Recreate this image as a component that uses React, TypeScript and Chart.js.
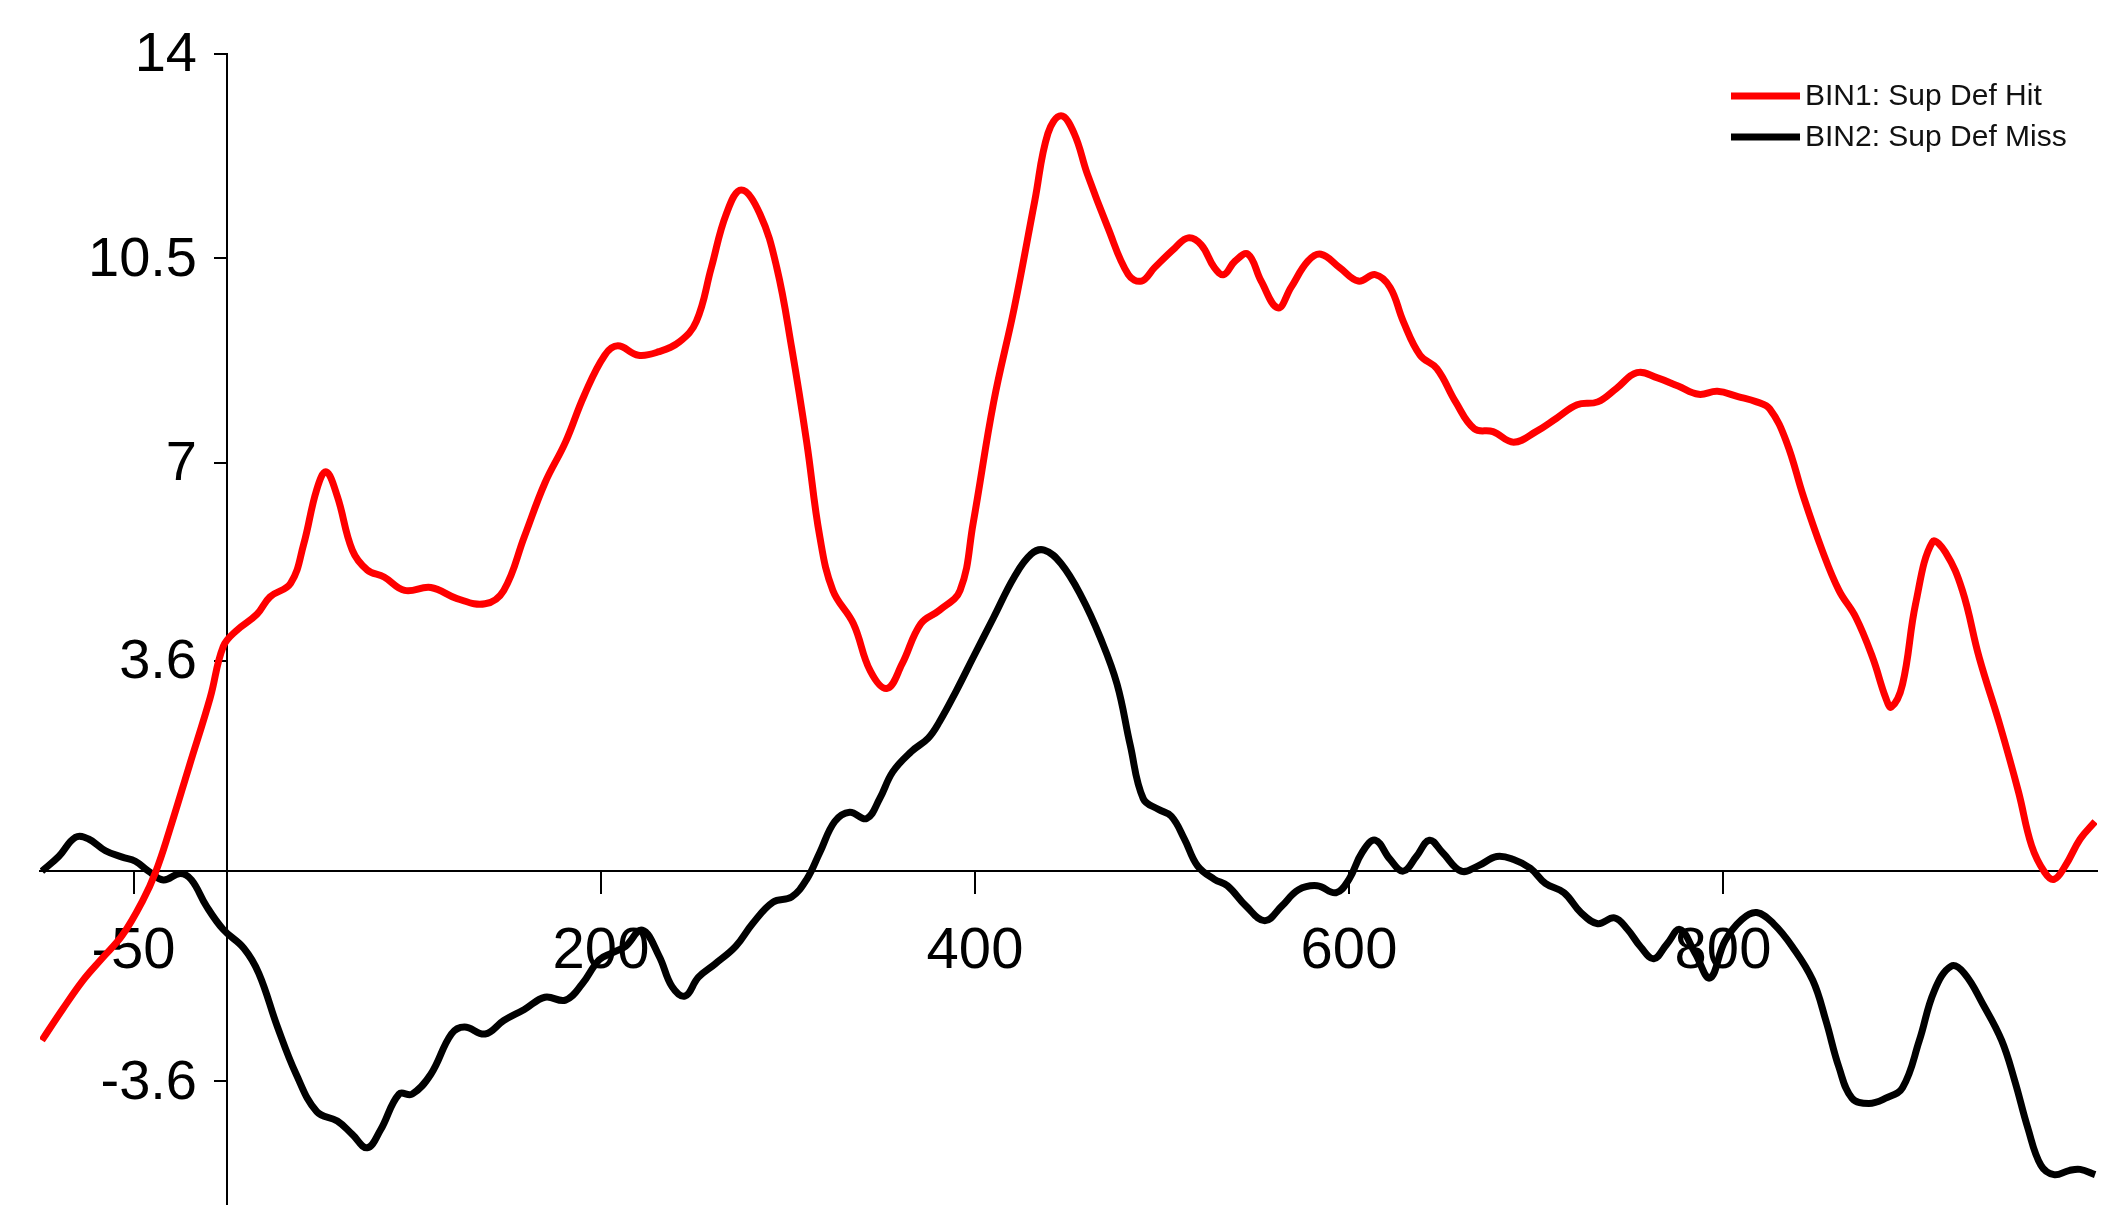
import React, { useEffect, useRef } from "react";
import { Chart, registerables } from "chart.js";

Chart.register(...registerables);

// Time (ms) and amplitude readings of each waveform
const hitTimes = [-99,-88,-77,-67,-56,-45,-38,-31,-20,-9,-2,5,16,23,34,41,48,53,59,67,75,84,95,109,123,138,148,159,170,181,191,202,209,220,231,242,251,259,267,275,285,294,302,310,317,324,335,344,353,361,371,381,392,399,410,421,432,439,446,453,460,471,482,489,496,507,514,521,528,533,539,546,553,562,569,578,585,595,605,614,622,629,638,647,657,667,677,688,700,711,722,733,743,754,765,776,787,797,808,818,825,834,843,853,862,871,880,887,890,896,903,912,919,928,937,948,958,965,972,977,983,991,999];
const hitValues = [-2.9,-2.37,-1.87,-1.5,-1.1,-0.5,0,0.67,1.82,2.97,3.85,4.12,4.4,4.7,4.93,5.6,6.54,6.84,6.42,5.5,5.16,5.04,4.81,4.86,4.67,4.58,4.81,5.73,6.65,7.35,8.15,8.84,9.0,8.84,8.9,9.07,9.42,10.34,11.26,11.67,11.26,10.34,8.96,7.35,5.73,4.81,4.24,3.43,3.13,3.55,4.24,4.47,4.81,5.96,8.04,9.65,11.49,12.64,12.94,12.64,11.95,11.03,10.22,10.11,10.34,10.68,10.85,10.73,10.34,10.22,10.45,10.57,10.11,9.65,10.0,10.45,10.57,10.34,10.11,10.22,10.0,9.42,8.84,8.61,8.04,7.58,7.53,7.35,7.53,7.76,7.99,8.04,8.27,8.54,8.45,8.31,8.17,8.22,8.13,8.04,7.92,7.35,6.42,5.5,4.81,4.35,3.66,2.97,2.81,3.2,4.58,5.64,5.46,4.81,3.66,2.51,1.36,0.44,-0.02,-0.14,0.09,0.55,0.85];

const missTimes = [-99,-90,-81,-74,-65,-56,-49,-42,-34,-25,-19,-11,-2,9,17,27,37,48,59,67,75,82,92,99,109,120,127,138,148,159,170,181,190,199,206,213,222,231,238,245,252,261,272,281,292,302,310,317,325,333,342,349,356,366,375,381,390,399,410,421,430,437,446,457,467,476,483,490,498,505,512,519,528,535,545,555,564,573,583,593,600,607,614,622,629,636,643,650,660,669,679,688,697,705,715,724,733,742,749,756,763,770,777,785,793,801,810,818,827,837,848,855,862,869,878,887,896,905,913,922,929,939,949,956,963,970,977,985,991,999];
const missValues = [0,0.25,0.58,0.55,0.35,0.24,0.17,0,-0.15,-0.04,-0.15,-0.6,-1.0,-1.32,-1.75,-2.67,-3.48,-4.12,-4.28,-4.51,-4.74,-4.44,-3.82,-3.82,-3.48,-2.79,-2.67,-2.79,-2.56,-2.37,-2.16,-2.21,-1.93,-1.52,-1.4,-1.29,-1.01,-1.45,-1.98,-2.14,-1.82,-1.59,-1.29,-0.9,-0.53,-0.44,-0.14,0.32,0.85,1.01,0.9,1.24,1.7,2.05,2.28,2.56,3.09,3.66,4.35,5.04,5.43,5.5,5.27,4.7,4.0,3.2,2.16,1.24,1.06,0.94,0.55,0.09,-0.14,-0.25,-0.6,-0.85,-0.6,-0.32,-0.25,-0.37,-0.14,0.32,0.53,0.2,0,0.25,0.53,0.32,0,0.09,0.25,0.2,0.05,-0.21,-0.37,-0.71,-0.9,-0.8,-1.0,-1.3,-1.5,-1.25,-1.0,-1.4,-1.83,-1.2,-0.83,-0.71,-0.9,-1.29,-1.87,-2.56,-3.36,-3.89,-3.98,-3.89,-3.71,-2.9,-2.05,-1.63,-1.75,-2.28,-2.9,-3.59,-4.4,-5.04,-5.2,-5.13,-5.11,-5.2];

const seriesLabels = ["BIN1: Sup Def Hit", "BIN2: Sup Def Miss"];
const seriesColors = ["#ff0000", "#000000"];

const xTickValues = [-50, 200, 400, 600, 800];
const yTickValues = [-3.6, 3.6, 7, 10.5, 14];

const FONT = '"Liberation Sans", Arial, Helvetica, sans-serif';

// Legend drawn inside the plot, top right
const insideLegend = {
  id: "insideLegend",
  afterDraw(chart: any) {
    const ctx = chart.ctx;
    ctx.save();
    chart.data.datasets.forEach((ds: any, i: number) => {
      const y = 96 + i * 41;
      ctx.strokeStyle = ds.borderColor;
      ctx.lineWidth = 7;
      ctx.beginPath();
      ctx.moveTo(1731, y);
      ctx.lineTo(1800, y);
      ctx.stroke();
      ctx.fillStyle = "#111";
      ctx.font = `30px ${FONT}`;
      ctx.textBaseline = "middle";
      ctx.textAlign = "left";
      ctx.fillText(ds.label, 1805, y + 1);
    });
    ctx.restore();
  },
};

// Y tick labels placed left of the crossing y axis (at x = 0)
const yAxisLabels = {
  id: "yAxisLabels",
  afterDraw(chart: any) {
    const ys = chart.scales.y;
    const xs = chart.scales.x;
    const ctx = chart.ctx;
    const axisX = xs.getPixelForValue(0);
    ctx.save();
    ctx.fillStyle = "#000";
    ctx.font = `56px ${FONT}`;
    ctx.textAlign = "right";
    ctx.textBaseline = "middle";
    ys.ticks.forEach((t: any) => {
      ctx.fillText(String(t.value), axisX - 30, ys.getPixelForValue(t.value) + 2);
    });
    ctx.restore();
  },
};

export default function App() {
  const ref = useRef<HTMLCanvasElement | null>(null);

  useEffect(() => {
    if (!ref.current) return;
    const chart = new Chart(ref.current, {
      type: "line",
      data: {
        datasets: [
          {
            label: seriesLabels[0],
            data: hitTimes.map((t, i) => ({ x: t, y: hitValues[i] })),
            borderColor: seriesColors[0],
            borderWidth: 7,
            pointRadius: 0,
            tension: 0.4,
            fill: false,
          },
          {
            label: seriesLabels[1],
            data: missTimes.map((t, i) => ({ x: t, y: missValues[i] })),
            borderColor: seriesColors[1],
            borderWidth: 7,
            pointRadius: 0,
            tension: 0.4,
            fill: false,
          },
        ],
      },
      options: {
        responsive: false,
        animation: false,
        layout: { padding: { left: 40, right: 7, top: 54, bottom: 0 } },
        plugins: { legend: { display: false }, tooltip: { enabled: false } },
        scales: {
          x: {
            type: "linear",
            min: -100,
            max: 1000,
            position: { y: 0 } as any,
            afterBuildTicks: (s: any) => {
              s.ticks = xTickValues.map((v) => ({ value: v }));
            },
            afterFit: (s: any) => {
              s.height = 0;
              s.paddingLeft = 0;
              s.paddingRight = 0;
              s.paddingTop = 0;
              s.paddingBottom = 0;
            },
            grid: { drawOnChartArea: false, drawTicks: true, tickLength: 22, color: "#000", lineWidth: 2 },
            border: { display: true, color: "#000", width: 2 },
            ticks: { color: "#000", font: { family: FONT, size: 58 }, padding: 24, maxRotation: 0, autoSkip: false },
          },
          y: {
            type: "linear",
            min: -5.72,
            max: 14,
            position: { x: 0 } as any,
            afterBuildTicks: (s: any) => {
              s.ticks = yTickValues.map((v) => ({ value: v }));
            },
            afterFit: (s: any) => {
              s.width = 0;
              s.paddingLeft = 0;
              s.paddingRight = 0;
              s.paddingTop = 0;
              s.paddingBottom = 0;
            },
            grid: { drawOnChartArea: false, drawTicks: true, tickLength: 12, color: "#000", lineWidth: 2 },
            border: { display: true, color: "#000", width: 2 },
            ticks: { display: false, color: "#000", font: { family: FONT, size: 56 }, autoSkip: false },
          },
        },
      },
      plugins: [insideLegend, yAxisLabels],
    });
    return () => chart.destroy();
  }, []);

  return (
    <div style={{ position: "absolute", left: 0, top: 0, width: 2104, height: 1205, background: "#fff" }}>
      <canvas ref={ref} width={2104} height={1205} />
    </div>
  );
}
